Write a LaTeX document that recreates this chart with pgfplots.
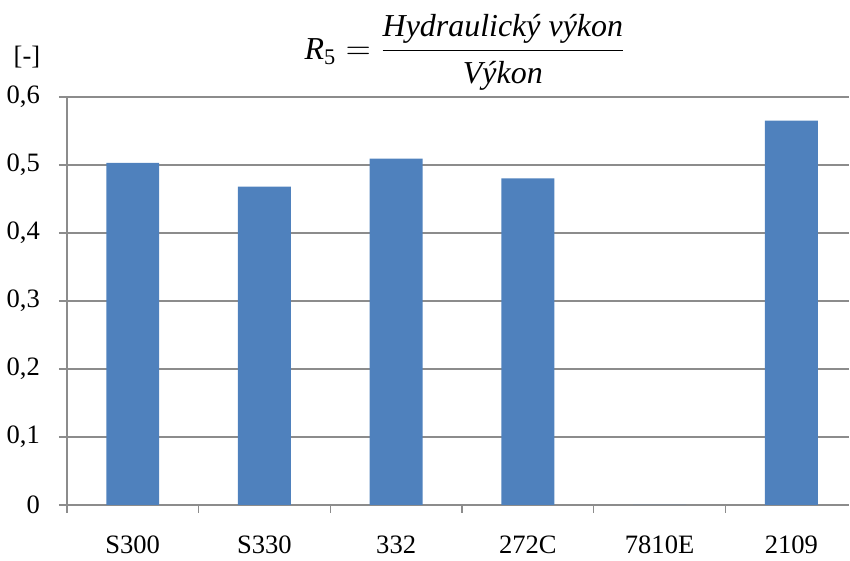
\documentclass[border=0pt]{standalone}
\usepackage{amsmath}
\usepackage{fontspec}
\setmainfont{Liberation Serif}
\usepackage{pgfplots}
\pgfplotsset{compat=1.18}
\definecolor{barblue}{HTML}{4F81BD}
\definecolor{gridgray}{HTML}{8C8C8C}
\begin{document}
\begin{tikzpicture}
\begin{axis}[
  width=392pt, height=204.5pt, scale only axis,
  xmin=-0.5, xmax=5.44,
  ymin=0, ymax=0.6,
  ytick={0,0.1,...,0.6},
  xtick={0,...,5},
  xticklabels={S300,S330,332,272C,7810E,2109},
  minor xtick={-0.5,0.5,...,4.5},
  major x tick style={draw=none},
  minor x tick style={draw=gridgray, line width=0.75pt},
  minor tick length=4pt,
  major tick length=4pt,
  tick align=outside,
  xtick pos=bottom, ytick pos=left,
  axis x line*=bottom, axis y line*=left,
  axis line style={draw=gridgray, line width=0.75pt},
  y tick style={draw=gridgray, line width=0.75pt},
  ymajorgrids, major grid style={draw=gridgray, line width=0.75pt},
  /pgf/number format/use comma,
  /pgf/number format/fixed,
  /pgf/number format/precision=1,
  /pgf/number format/assume math mode=true,
  ticklabel style={font=\fontsize{13.3}{15}\selectfont},
  yticklabel style={xshift=-6pt},
  xticklabel style={yshift=-8pt},
  clip=false,
]
\addplot[ybar, bar width=26.5pt, fill=barblue, draw=none] coordinates {
  (0,0.503) (1,0.468) (2,0.509) (3,0.480) (4,0) (5,0.565)
};
\node[font=\fontsize{13.3}{15}\selectfont] at ({rel axis cs:0,1}) [xshift=-20pt, yshift=20pt] {[-]};
\node[font=\fontsize{16}{19}\selectfont] at ({rel axis cs:0.5,1}) [xshift=3.5pt, yshift=22.5pt]
  {$\displaystyle \textit{R}_{\text{5}} = \frac{\textit{Hydraulický výkon}}{\textit{Výkon}}$};
\path ({rel axis cs:0.5,1}) ++(0pt,48.5pt);
\end{axis}
\end{tikzpicture}
\end{document}
